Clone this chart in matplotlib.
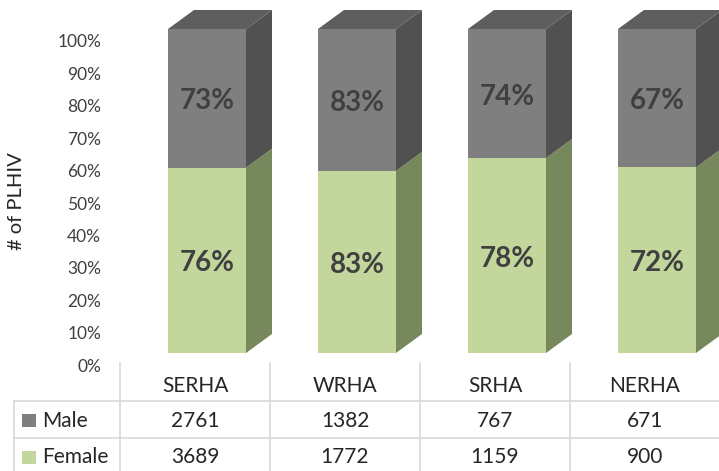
import matplotlib
matplotlib.use("Agg")
import matplotlib.pyplot as plt
import matplotlib.transforms as mtransforms
from matplotlib.patches import Polygon, Rectangle
import numpy as np

plt.rcParams['font.family'] = ['Lato', 'DejaVu Sans']

# ---- data ----
categories = ['SERHA', 'WRHA', 'SRHA', 'NERHA']
male = [2761, 1382, 767, 671]
female = [3689, 1772, 1159, 900]
male_labels = ['73%', '83%', '74%', '67%']
female_labels = ['76%', '83%', '78%', '72%']
series_names = ['Male', 'Female']
ytick_values = [0, 10, 20, 30, 40, 50, 60, 70, 80, 90, 100]
ylabel = '# of PLHIV'

# ---- style ----
green_front = '#c3d69b'
green_side = '#77885c'
gray_front = '#7f7f7f'
gray_side = '#515151'
gray_top = '#5e5e5e'
label_color = '#404040'
text_color = '#262626'
grid_col = '#d9d9d9'

W, H = 719, 471
fig = plt.figure(figsize=(W / 100, H / 100), dpi=100)

# main axes: pixel x 120..720, y 0..363 (from top)
ax_bottom_px = 363
ax = fig.add_axes([120 / W, (H - ax_bottom_px) / H, 600 / W, ax_bottom_px / H])
px_per_unit = 324.0
zero_px = 353.0
ax.set_ylim(-(ax_bottom_px - zero_px) / px_per_unit, zero_px / px_per_unit)
ax.set_xlim(-0.5, 3.5)
col_px = 150.0
xoff = 12 / col_px
bw = 78 / col_px
dx = 26 / col_px
dy = 19 / px_per_unit

male = np.array(male, float)
female = np.array(female, float)
ffrac = female / (female + male)
mfrac = 1 - ffrac
x = np.arange(len(categories)) + xoff

ax.bar(x, ffrac, width=bw, color=green_front, zorder=2, linewidth=0)
ax.bar(x, mfrac, bottom=ffrac, width=bw, color=gray_front, zorder=2, linewidth=0)
lab_shift = mtransforms.ScaledTranslation(0, -3 / 100, fig.dpi_scale_trans)
for i in range(len(categories)):
    x1 = x[i] + bw / 2
    x0 = x[i] - bw / 2
    f = ffrac[i]
    ax.add_patch(Polygon([(x1, 0), (x1 + dx, dy), (x1 + dx, f + dy), (x1, f)],
                         closed=True, facecolor=green_side, edgecolor='none', zorder=2))
    ax.add_patch(Polygon([(x1, f), (x1 + dx, f + dy), (x1 + dx, 1 + dy), (x1, 1)],
                         closed=True, facecolor=gray_side, edgecolor='none', zorder=2))
    ax.add_patch(Polygon([(x0, 1), (x0 + dx, 1 + dy), (x1 + dx, 1 + dy), (x1, 1)],
                         closed=True, facecolor=gray_top, edgecolor='none', zorder=2))
    ax.text(x[i], f / 2, female_labels[i], ha='center', va='center', fontsize=20,
            fontweight='bold', color=label_color, zorder=3,
            transform=ax.transData + lab_shift)
    ax.text(x[i], f + (1 - f) / 2, male_labels[i], ha='center', va='center', fontsize=20,
            fontweight='bold', color=label_color, zorder=3,
            transform=ax.transData + lab_shift)

ax.set_yticks([v / 100 for v in ytick_values])
ax.set_yticklabels([f'{v}%' for v in ytick_values], fontsize=12.5, color='#404040')
ax.tick_params(axis='y', length=0, pad=13.5)
shift = mtransforms.ScaledTranslation(0, -12 / 100, fig.dpi_scale_trans)
for lab in ax.get_yticklabels():
    lab.set_transform(lab.get_transform() + shift)
ax.set_xticks([])
for s in ax.spines.values():
    s.set_visible(False)
ax.patch.set_alpha(0)

fig.text(17 / W, 1 - 201 / H, ylabel, rotation=90, ha='center', va='center',
         fontsize=14.5, color='#262626')

# ---- data table ----
tax = fig.add_axes([0, 0, 1, (H - 363) / H])
tax.set_xlim(0, W)
tax.set_ylim(H, 363)
tax.axis('off')
left_px = 14
col0 = 120
row_y = [363, 401, 438, 476]
for k in range(len(categories) + 1):
    xv = col0 + k * col_px
    tax.plot([xv, xv], [row_y[0], row_y[-1]], color=grid_col, lw=1.2, clip_on=False)
tax.plot([left_px, left_px], [row_y[1], row_y[-1]], color=grid_col, lw=1.2)
for r in (1, 2):
    tax.plot([left_px, W + 1], [row_y[r], row_y[r]], color=grid_col, lw=1.2)
tfs = 15
for k, c in enumerate(categories):
    xc = col0 + (k + 0.5) * col_px
    tax.text(xc, 386, c, ha='center', va='center', fontsize=tfs, color=text_color)
    tax.text(xc, (row_y[1] + row_y[2]) / 2 + 1, f'{int(male[k])}', ha='center',
             va='center', fontsize=tfs, color=text_color)
    tax.text(xc, (row_y[2] + row_y[3]) / 2, f'{int(female[k])}', ha='center',
             va='center', fontsize=tfs, color=text_color)
for r, (name, col) in enumerate(zip(series_names, [gray_front, green_front])):
    yc = (row_y[r + 1] + row_y[r + 2]) / 2 + (1 if r == 0 else 0)
    tax.add_patch(Rectangle((22, yc - 6.5), 14, 13, facecolor=col, edgecolor='none'))
    tax.text(42, yc, name, ha='left', va='center', fontsize=tfs, color=text_color)

fig.savefig('out.png', dpi=100)
